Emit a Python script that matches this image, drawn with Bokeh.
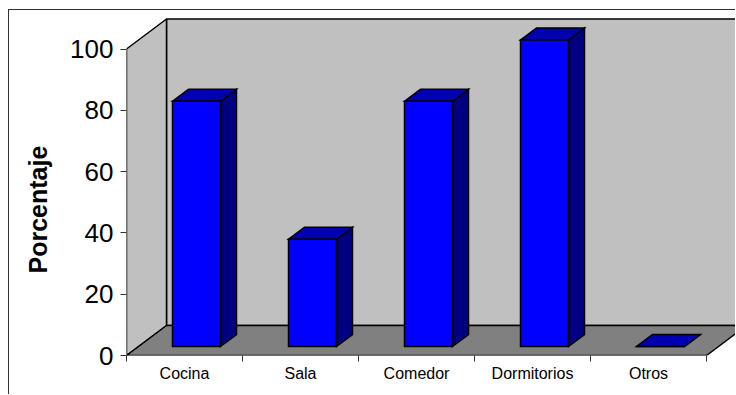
from bokeh.plotting import figure
from bokeh.models import Range1d, FixedTicker, ColumnDataSource, Title
from bokeh.embed import file_html
from bokeh.resources import INLINE

# Data
categorias = ["Cocina", "Sala", "Comedor", "Dormitorios", "Otros"]
porcentaje = [80, 35, 80, 100, 0]
y_ticks = [0, 20, 40, 60, 80, 100]

# Pseudo-3D geometry (data units)
FRAME_W, FRAME_H = 610, 345
PX_X = 116.0          # pixels per category slot
PX_Y = 3.065          # pixels per percentage point
X0 = 0.5
X_END = X0 + FRAME_W / PX_X
Y_END = FRAME_H / PX_Y
DX = 40 / PX_X        # depth offset, horizontal
DY = 30 / PX_Y        # depth offset, vertical
WALL_TOP = 100
BAR_W = 48 / PX_X
F_FRONT, F_BACK = 0.3, 0.7
N = len(categorias)

FONT = "Liberation Sans"

p = figure(width=727, height=385, title=None,
           x_range=Range1d(X0, X_END), y_range=Range1d(0, Y_END),
           output_backend="svg", toolbar_location=None,
           min_border_left=117, min_border_right=0,
           min_border_top=0, min_border_bottom=40)
p.margin = (9, 0, 0, 8)
p.styles = {"border-left": "1px solid #333333", "border-top": "1px solid #333333"}
p.outline_line_color = None
p.xgrid.visible = False
p.ygrid.visible = False
p.background_fill_color = "white"
p.border_fill_color = "white"

# Walls and floor
p.patch([X0 + DX, X0 + N + DX, X0 + N + DX, X0 + DX],
        [DY, DY, WALL_TOP + DY, WALL_TOP + DY],
        fill_color="#C0C0C0", line_color="black", line_width=1.5)
p.patch([X0, X0 + DX, X0 + DX, X0],
        [0, DY, WALL_TOP + DY, WALL_TOP],
        fill_color="#C0C0C0", line_color="black", line_width=1.5)
p.patch([X0, X0 + N, X0 + N + DX, X0 + DX],
        [0, 0, DY, DY],
        fill_color="#808080", line_color="black", line_width=1.5)

# Bars: front, top and side faces
fx, fy = F_FRONT * DX, F_FRONT * DY
bx, by = F_BACK * DX, F_BACK * DY
centers = [i + 1 for i in range(N)]
left = [c - BAR_W / 2 + fx for c in centers]
right = [c + BAR_W / 2 + fx for c in centers]

front = ColumnDataSource(dict(left=left, right=right,
                              bottom=[fy] * N, top=[v + fy for v in porcentaje]))
top_xs, top_ys, side_xs, side_ys = [], [], [], []
for c, v in zip(centers, porcentaje):
    l, r = c - BAR_W / 2, c + BAR_W / 2
    top_xs.append([l + fx, r + fx, r + bx, l + bx])
    top_ys.append([v + fy, v + fy, v + by, v + by])
    side_xs.append([r + fx, r + bx, r + bx, r + fx])
    side_ys.append([fy, by, v + by, v + fy])

p.patches(side_xs, side_ys, fill_color="#000080", line_color="black",
          line_width=1.5, line_join="miter")
p.patches(top_xs, top_ys, fill_color="#0000B0", line_color="black",
          line_width=1.5, line_join="miter")
p.quad(left="left", right="right", bottom="bottom", top="top", source=front,
       fill_color="#0000FF", line_color="black", line_width=1.5, line_join="miter")

# Value axis
ya = p.yaxis[0]
ya.ticker = FixedTicker(ticks=y_ticks, minor_ticks=[])
ya.axis_line_color = None
ya.major_tick_out = 6
ya.major_tick_in = 0
ya.major_tick_line_color = "#333333"
ya.minor_tick_line_color = None
ya.major_label_text_font = FONT
ya.major_label_text_font_size = "26px"
ya.major_label_text_color = "black"
ya.major_label_standoff = 7

# Axis title, starting a little above the frame bottom
p.add_layout(Title(text="Porcentaje", align="left", offset=82, standoff=27,
                   vertical_align="top",
                   text_font=FONT, text_font_size="25px", text_font_style="bold",
                   text_color="black"), "left")

# Category axis: labels at slot centres, ticks at slot boundaries
xa = p.xaxis[0]
xa.ticker = FixedTicker(ticks=centers, minor_ticks=[X0 + i for i in range(N + 1)])
xa.major_label_overrides = {c: name for c, name in zip(centers, categorias)}
xa.axis_line_color = None
xa.major_tick_line_color = None
xa.major_tick_out = 0
xa.major_tick_in = 0
xa.minor_tick_out = 6
xa.minor_tick_in = 0
xa.minor_tick_line_color = "#333333"
xa.major_label_text_font = FONT
xa.major_label_text_font_size = "16px"
xa.major_label_text_color = "black"
xa.major_label_standoff = 3

open("out.html", "w").write(file_html(p, INLINE))
